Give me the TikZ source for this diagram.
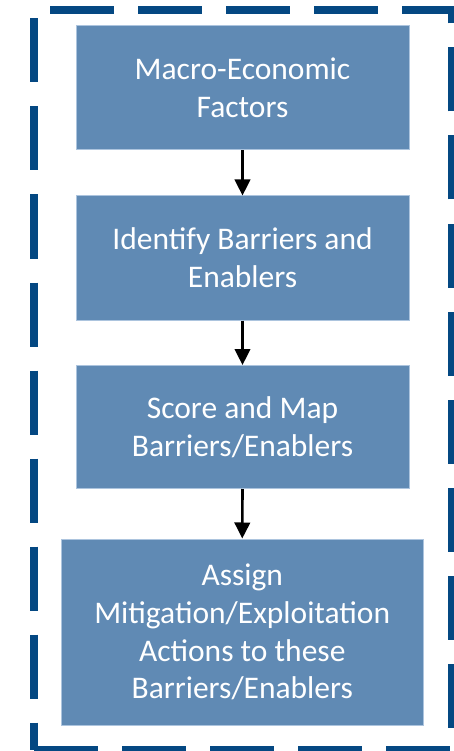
\documentclass[tikz,border=0pt]{standalone}
\usepackage{fontspec}
\setmainfont{Carlito}
\usetikzlibrary{arrows.meta}

\definecolor{boxfill}{RGB}{96,138,180}
\definecolor{boxedge}{RGB}{172,196,222}
\definecolor{frameblue}{RGB}{4,72,130}

\tikzset{
  stepbox/.style={
    draw=boxedge, line width=1pt, fill=boxfill, text=white,
    inner sep=0pt, align=center,
    font=\fontsize{31.5}{37.8}\selectfont
  },
  flow/.style={
    line width=2.6pt, black,
    -{Triangle[width=15.5pt,length=16pt]}
  },
  frame/.style={
    draw=frameblue, line width=8pt,
    dash pattern=on 64pt off 24pt, line join=miter
  }
}

\begin{document}
\begin{tikzpicture}[x=1pt,y=-1pt]
  \useasboundingbox (0,0) rectangle (454,751);

  % dashed outer frame
  \coordinate (bl) at (34,749.5);
  \coordinate (br) at (452,749.5);
  \coordinate (tr) at (452,10);
  \coordinate (tl) at (34,10);
  \draw[frame] (bl) -- (br) -- (tr) -- (tl) -- cycle;

  % process steps
  \node[stepbox, minimum width=333pt, minimum height=124pt] (s1) at (242.5,88)
    {Macro-Economic\\Factors};
  \node[stepbox, minimum width=333pt, minimum height=124pt] (s2) at (242.5,258)
    {Identify Barriers and\\Enablers};
  \node[stepbox, minimum width=333pt, minimum height=123pt] (s3) at (242.5,427)
    {Score and Map\\Barriers/Enablers};
  \node[stepbox, minimum width=362pt, minimum height=186pt] (s4) at (242.25,632)
    {Assign\\Mitigation/Exploitation\\Actions to these\\Barriers/Enablers};

  % connectors
  \draw[flow] (s1.south) -- (s2.north);
  \draw[flow] (s2.south) -- (s3.north);
  \draw[flow] (s3.south) -- (s4.north);
\end{tikzpicture}
\end{document}
